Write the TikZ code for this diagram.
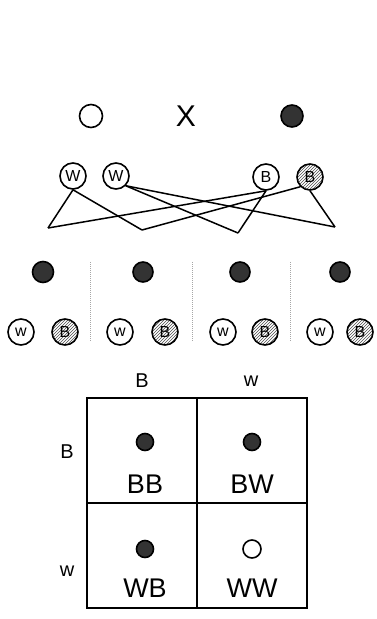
\documentclass[tikz,border=0pt]{standalone}
\usepackage{fontspec}
\setmainfont{Liberation Sans}
\usetikzlibrary{patterns}
\begin{document}
\begin{tikzpicture}[x=1pt,y=-1pt,
  ln/.style={line width=1.5pt},
  opencirc/.style={circle, draw, line width=1.6pt, minimum size=#1, inner sep=0pt},
  darkcirc/.style={circle, draw, line width=1.6pt, fill=black!80, minimum size=#1, inner sep=0pt},
  gam/.style={circle, draw, line width=1.6pt, minimum size=26pt, inner sep=0pt, font=\fontsize{16}{16}\selectfont},
  gamB/.style={gam, pattern=north east lines, pattern color=black!70},
  cell/.style={rectangle, draw, line width=1.6pt, minimum width=110pt, minimum height=105pt, inner sep=0pt},
  big/.style={font=\fontsize{27}{27}\selectfont, inner sep=0pt},
  lab/.style={font=\fontsize{20}{20}\selectfont, inner sep=0pt},
  sep/.style={densely dotted, black!35, line width=1pt}
]
\useasboundingbox (0,0) rectangle (377,619);
% parents
\node[opencirc=23pt] (p1) at (91,116) {};
\node[font=\fontsize{30}{30}\selectfont, inner sep=0pt] (px) at (186,116) {X};
\node[darkcirc=22pt] (p2) at (292,116) {};
% gametes
\node[gam] (w1) at (73,176) {W};
\node[gam] (w2) at (116,176) {W};
\node[gam] (b1) at (266,177) {B};
\node[gamB] (b2) at (310,177) {B};
\coordinate (f1) at (48,228);
\coordinate (f2) at (142,230);
\coordinate (f3) at (238,233);
\coordinate (f4) at (335,227);
\draw[ln] (w1.south) -- (f1);
\draw[ln] (w1.south) -- (f2);
\draw[ln] (w2.south east) -- (f3);
\draw[ln] (w2.south east) -- (f4);
\draw[ln] (b1.south) -- (f1);
\draw[ln] (b1.south) -- (f3);
\draw[ln] (b2.south west) -- (f2);
\draw[ln] (b2.south) -- (f4);
% offspring
\node[darkcirc=21pt] (o1) at (43,272) {};
\node[darkcirc=20pt] (o2) at (143,272) {};
\node[darkcirc=20pt] (o3) at (240,272) {};
\node[darkcirc=20pt] (o4) at (340,272) {};
\node[gam] (g1) at (21,332) {w};
\node[gamB] (g2) at (65,332) {B};
\node[gam] (g3) at (120,332) {w};
\node[gamB] (g4) at (165,332) {B};
\node[gam] (g5) at (223,332) {w};
\node[gamB] (g6) at (265,332) {B};
\node[gam] (g7) at (320,332) {w};
\node[gamB] (g8) at (360,332) {B};
\draw[sep] (90,262) -- (90,342);
\draw[sep] (192,262) -- (192,342);
\draw[sep] (290,262) -- (290,342);
% Punnett square
\node[lab] (cB) at (142,381) {B};
\node[lab] (cW) at (251,381) {w};
\node[lab] (rB) at (67,452) {B};
\node[lab] (rW) at (67,571) {w};
\node[cell] (c11) at (142,450.5) {};
\node[cell] (c12) at (252,450.5) {};
\node[cell] (c21) at (142,555.5) {};
\node[cell] (c22) at (252,555.5) {};
\node[darkcirc=17pt] (d11) at (145,442) {};
\node[darkcirc=17pt] (d12) at (252,442) {};
\node[darkcirc=17pt] (d21) at (145,549) {};
\node[opencirc=18pt] (d22) at (252,549) {};
\node[big] (t11) at (145,484) {BB};
\node[big] (t12) at (252,484) {BW};
\node[big] (t21) at (145,588) {WB};
\node[big] (t22) at (252,588) {WW};
\end{tikzpicture}
\end{document}
